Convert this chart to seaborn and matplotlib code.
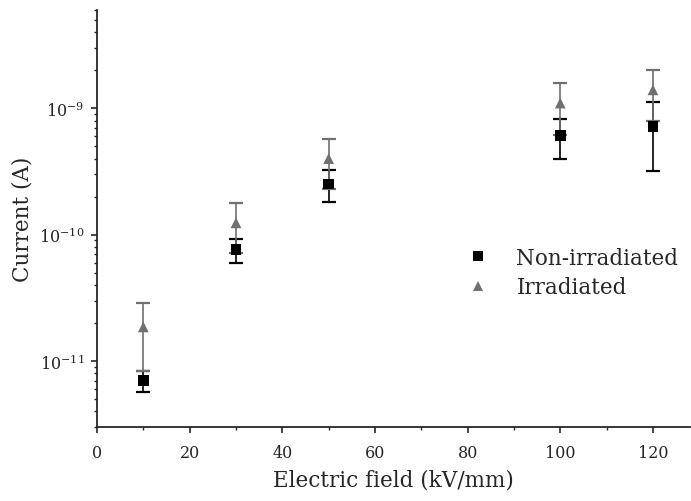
import numpy as np
import pandas as pd
import matplotlib
matplotlib.use("Agg")
import matplotlib.pyplot as plt
from matplotlib.ticker import LogLocator, MultipleLocator, NullFormatter
import seaborn as sns

# data
field = [10, 30, 50, 100, 120]
non_irr = [7.05e-12, 7.6e-11, 2.52e-10, 6.12e-10, 7.2e-10]
non_irr_err = [1.35e-12, 1.6e-11, 0.70e-10, 2.14e-10, 4.0e-10]
irr = [1.86e-11, 1.24e-10, 4.0e-10, 1.1e-9, 1.4e-9]
irr_err = [1.02e-11, 0.53e-10, 1.7e-10, 0.49e-9, 0.6e-9]
groups = ["Non-irradiated", "Irradiated"]
colors = {"Non-irradiated": "#000000", "Irradiated": "#707070"}
markers = {"Non-irradiated": "s", "Irradiated": "^"}

df = pd.DataFrame({
    "field": field * 2,
    "current": non_irr + irr,
    "err": non_irr_err + irr_err,
    "group": [groups[0]] * len(field) + [groups[1]] * len(field),
})

sns.set_style("ticks")
plt.rcParams["font.family"] = ["DejaVu Serif"]
plt.rcParams["mathtext.fontset"] = "dejavuserif"

fig = plt.figure(figsize=(6.91, 5.02), dpi=100)
ax = fig.add_axes([97 / 691, 1 - 428 / 502, 593 / 691, 417 / 502])

# error bars first, then markers on top
for g in groups:
    sub = df[df["group"] == g]
    ax.errorbar(sub["field"], sub["current"], yerr=sub["err"], fmt="none",
                ecolor=colors[g], elinewidth=1.2, capsize=5, capthick=1.6, zorder=2)

sns.scatterplot(data=df, x="field", y="current", hue="group", style="group",
                palette=colors, markers=markers, hue_order=groups, style_order=groups,
                s=60, linewidth=0, ax=ax, zorder=3)

ax.set_yscale("log")
ax.set_xlim(0, 128)
ax.set_ylim(3e-12, 6e-9)
ax.xaxis.set_major_locator(MultipleLocator(20))
ax.xaxis.set_minor_locator(MultipleLocator(10))
ax.yaxis.set_major_locator(LogLocator(base=10, numticks=10))
ax.yaxis.set_minor_locator(LogLocator(base=10, subs=np.arange(2, 10), numticks=10))
ax.yaxis.set_minor_formatter(NullFormatter())

ax.set_xlabel("Electric field (kV/mm)", fontsize=15.5, labelpad=6)
ax.set_ylabel("Current (A)", fontsize=15.5, labelpad=4)
ax.tick_params(which="major", direction="out", length=4, width=1.2, labelsize=11.5)
ax.tick_params(axis="x", which="major", pad=8)
ax.tick_params(axis="y", which="major", pad=5)
ax.tick_params(which="minor", direction="out", length=2.5, width=1.0)

sns.despine(ax=ax)
for s in ("left", "bottom"):
    ax.spines[s].set_linewidth(1.3)

leg = ax.legend(loc="center left", bbox_to_anchor=(0.573, 0.37), frameon=False,
                fontsize=15.5, handletextpad=0.8, labelspacing=0.35, markerscale=1.0)

fig.savefig("out.png", dpi=100)
